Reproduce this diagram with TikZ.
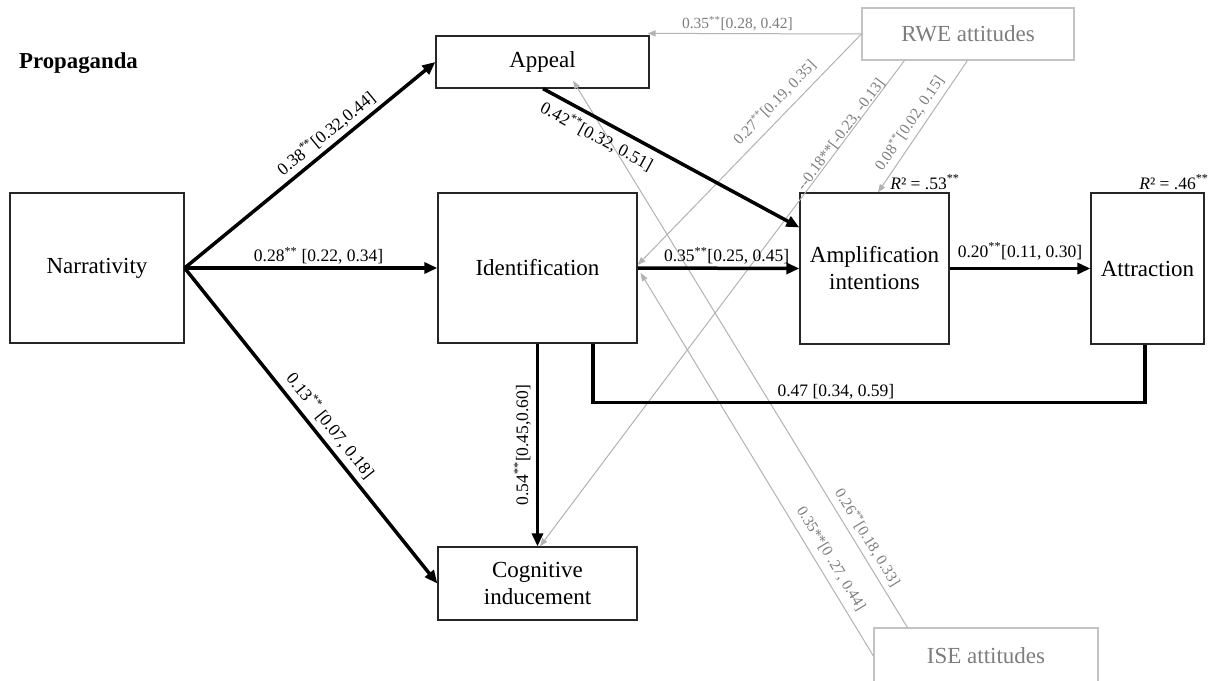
\documentclass[tikz,border=0pt]{standalone}
\usepackage{fontspec}
\setmainfont{Liberation Serif}
\usetikzlibrary{arrows.meta,calc}
\definecolor{lgray}{RGB}{178,178,178}
\definecolor{tgray}{RGB}{125,125,125}
\definecolor{bgray}{RGB}{195,195,195}
\begin{document}
\begin{tikzpicture}[x=1pt,y=1pt,
 box/.style={draw=black!85, line width=1.3pt, rectangle, inner sep=0pt, align=center, font=\fontsize{23}{27}\selectfont},
 gbox/.style={draw=bgray, line width=1.2pt, rectangle, inner sep=0pt, align=center, font=\fontsize{23}{27}\selectfont, text=tgray},
 barrow/.style={line width=3.5pt, -{Triangle[length=13pt,width=11pt]}},
 bline/.style={line width=3.5pt},
 garrow/.style={draw=lgray, line width=1pt, -{Triangle[length=8pt,width=6pt]}},
 blab/.style={font=\fontsize{17.5}{20}\selectfont, inner sep=2pt},
 glab/.style={font=\fontsize{15.5}{18}\selectfont, text=tgray, inner sep=2pt},
]
\useasboundingbox (0,0) rectangle (1215,-680);

\node[font=\bfseries\fontsize{22.8}{26}\selectfont, inner sep=0pt] (title) at (78.5,-63) {Propaganda};

\node[box, minimum width=174pt, minimum height=150pt] (narr) at (97,-268) {Narrativity};
\node[box, minimum width=213pt, minimum height=52pt] (appeal) at (542.5,-62) {Appeal};
\node[box, minimum width=199pt, minimum height=150pt] (ident) at (537.5,-268) {Identification};
\node[box, minimum width=199pt, minimum height=73pt] (cog) at (537.5,-583.5) {Cognitive\\inducement};
\node[box, minimum width=149pt, minimum height=151pt] (amp) at (874.5,-268.5) {Amplification\\intentions};
\node[box, minimum width=113pt, minimum height=151pt] (attr) at (1147.5,-268.5) {Attraction};
\node[gbox, minimum width=212pt, minimum height=52pt] (rwe) at (968,-34) {RWE attitudes};
\node[gbox, minimum width=224pt, minimum height=56pt] (ise) at (986,-656) {ISE attitudes};

\node[blab] (r2a) at (925,-182) {\textit{R}² = .53\textsuperscript{**}};
\node[blab] (r2b) at (1174,-182) {\textit{R}² = .46\textsuperscript{**}};

% gray paths
\draw[garrow] (rwe.west) -- node[glab, above, pos=0.58] {0.35\textsuperscript{**}[0.28, 0.42]} ($(appeal.north east)+(-2,2)$);
\draw[garrow] (rwe.west) -- node[glab, sloped, above=5pt, pos=0.34] {0.27\textsuperscript{**}[0.19, 0.35]} ($(ident.east)+(0,3)$);
\draw[garrow] ($(rwe.south west)+(43,0)$) -- node[glab, sloped, above=-3pt, pos=0.16] {-{}-0.18**[-0.23, -0.13]} ($(cog.north)+(2.5,0)$);
\draw[garrow] ($(rwe.south west)+(106,0)$) -- node[glab, sloped, above=3pt, pos=0.53] {0.08\textsuperscript{**}[0.02, 0.15]} ($(amp.north)+(3.5,0)$);
\draw[garrow] ($(ise.north west)+(34,0)$) -- node[glab, sloped, above=3pt, pos=0.152] {0.26\textsuperscript{**}[0.18, 0.33]} ($(appeal.south)+(30.5,8)$);
\draw[garrow] (ise.west) -- node[glab, sloped, above=5pt, pos=0.235] {0.35**[0 .27, 0.44]} ($(ident.east)+(3,-5)$);

% black paths
\draw[barrow] (narr.east) -- node[blab, sloped, above=2pt, pos=0.6] {0.38\textsuperscript{**}[0.32,0.44]} (appeal.west);
\draw[barrow] (narr.east) -- node[blab, above, pos=0.53] {0.28\textsuperscript{**} [0.22, 0.34]} (ident.west);
\draw[barrow] (narr.east) -- node[blab, sloped, above=3pt, pos=0.53] {0.13\textsuperscript{**} [0.07, 0.18]} (cog.west);
\draw[barrow] ($(appeal.south)+(0.5,0)$) -- node[blab, sloped, below=4pt, pos=0.24] {0.42\textsuperscript{**}[0.32, 0.51]} ($(amp.west)+(0,41)$);
\draw[barrow] (ident.east) -- node[blab, above, pos=0.55] {0.35\textsuperscript{**}[0.25, 0.45]} (amp.west);
\draw[barrow] (amp.east) -- node[blab, above, yshift=5pt] {0.20\textsuperscript{**}[0.11, 0.30]} (attr.west);
\draw[barrow] (ident.south) -- node[blab, rotate=90, anchor=south, inner ysep=5pt] {0.54\textsuperscript{**}[0.45,0.60]} (cog.north);
\draw[bline] ([xshift=55.5pt]ident.south) |- node[blab, above, pos=0.72] {0.47 [0.34, 0.59]} ([xshift=-2.5pt,yshift=-58pt]attr.south) -- ([xshift=-2.5pt]attr.south);
\end{tikzpicture}
\end{document}
